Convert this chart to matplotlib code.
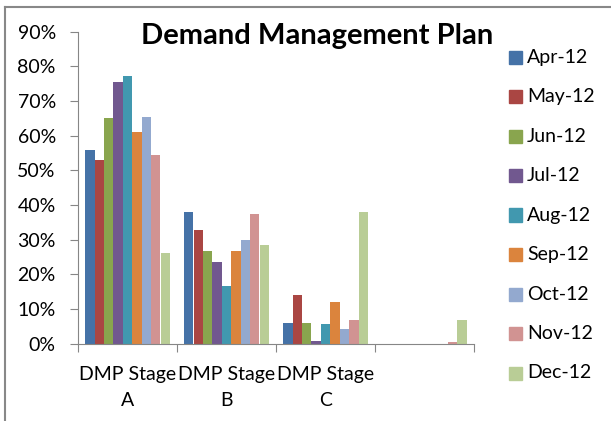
import numpy as np
from matplotlib import pyplot as plt
from matplotlib.lines import Line2D

# Dados
categorias = ['DMP Stage\nA', 'DMP Stage\nB', 'DMP Stage\nC', '']
meses = ['Apr-12', 'May-12', 'Jun-12', 'Jul-12', 'Aug-12',
         'Sep-12', 'Oct-12', 'Nov-12', 'Dec-12']
apr = [56.0, 37.9, 5.9, 0]
may = [52.9, 32.9, 14.0, 0]
jun = [65.0, 26.8, 5.9, 0]
jul = [75.4, 23.7, 0.7, 0]
aug = [77.3, 16.7, 5.7, 0]
sep = [61.0, 26.8, 11.9, 0]
oct_ = [65.5, 29.8, 4.2, 0]
nov = [54.5, 37.5, 6.9, 0.6]
dec = [26.2, 28.4, 37.9, 6.9]
series = [apr, may, jun, jul, aug, sep, oct_, nov, dec]

cores = ['#4572A7', '#AA4643', '#89A54E', '#71588F', '#4198AF',
         '#DB843D', '#93A9CF', '#D19392', '#B9CD96']

plt.rcParams['font.family'] = ['Lato', 'DejaVu Sans']

fig = plt.figure(figsize=(6.11, 4.21), dpi=100)
ax = fig.add_axes([78/611, 1 - 343.7/421, (474 - 78)/611, (343.7 - 31.7)/421])

largura = 1 / 10.5
x = np.arange(len(categorias)) + 0.5
for i, (vals, cor) in enumerate(zip(series, cores)):
    ax.bar(x + (i - 4) * largura, vals, largura, color=cor, label=meses[i])

ax.set_xlim(0, 4)
ax.set_ylim(0, 90)
ax.set_yticks(range(0, 91, 10))
ax.set_yticklabels([f'{v}%' for v in range(0, 91, 10)], fontsize=14)
ax.set_xticks([0, 1, 2, 3, 4])
ax.set_xticklabels([])
ax.set_xticks(x, minor=True)
ax.set_xticklabels(categorias, minor=True, fontsize=14, linespacing=1.65)
ax.tick_params(axis='x', which='minor', length=0, pad=16)
ax.tick_params(axis='x', which='major', length=6, color='#868686')
ax.tick_params(axis='y', length=6, color='#868686', pad=10)

for s in ['top', 'right']:
    ax.spines[s].set_visible(False)
ax.spines['left'].set_color('#868686')
ax.spines['bottom'].set_color('#868686')

fig.text(317/611, 1 - 36/421, 'Demand Management Plan', ha='center',
         va='center', fontsize=21, fontweight='bold')

# Legenda manual
for i, (m, cor) in enumerate(zip(meses, cores)):
    yy = 1 - (57 + i * 39.5) / 421
    fig.patches.append(plt.Rectangle((509/611, yy - 6.5/421), 13/611, 13/421,
                                     color=cor, transform=fig.transFigure))
    fig.text(527/611, yy, m, va='center', ha='left', fontsize=14)

# Borda do gráfico
fig.add_artist(Line2D([5/611, 5/611], [0, 1 - 7/421], color='#888888', lw=1.5,
                      transform=fig.transFigure))
fig.add_artist(Line2D([5/611, 1], [1 - 7/421, 1 - 7/421], color='#888888', lw=1.5,
                      transform=fig.transFigure))

fig.savefig('out.png', dpi=100)
